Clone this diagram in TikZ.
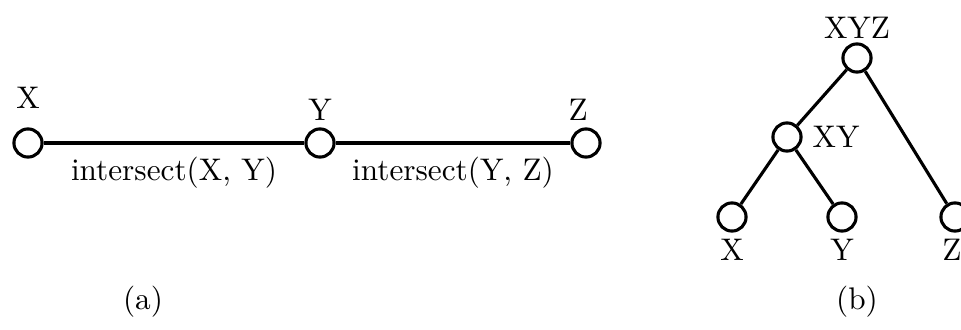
\documentclass[tikz,border=0pt]{standalone}
\usetikzlibrary{positioning}
\tikzset{
  vertex/.style={circle, draw=black, fill=white, line width=1pt, minimum size=9pt, inner sep=0pt},
  edge/.style={line width=1pt, draw=black},
  tag/.style={font=\normalsize, inner sep=1pt},
  caption/.style={font=\normalsize},
}
\begin{document}
\begin{tikzpicture}[x=0.32pt, y=-0.32pt]
  \useasboundingbox (0,0) rectangle (961,329);

  % (a) chain
  \node[vertex, label={[tag, label distance=5pt]above:X}] (ax) at (28,143) {};
  \node[vertex, label={[tag, label distance=1pt]above:Y}] (ay) at (320,143) {};
  \node[vertex, label={[tag, label distance=1pt, xshift=-2.5pt]above:Z}] (az) at (586,143) {};
  \draw[edge] (ax) -- node[tag, below=3pt] (lxy) {intersect(X, Y)} (ay);
  \draw[edge] (ay) -- node[tag, below=3pt] (lyz) {intersect(Y, Z)} (az);
  \node[caption] (capa) at (143,302) {(a)};

  % (b) tree
  \node[vertex, label={[tag, label distance=0pt]above:XYZ}] (xyz) at (857,58) {};
  \node[vertex, label={[tag, label distance=2pt]right:XY}] (xy) at (787,137) {};
  \node[vertex, label={[tag, label distance=1pt]below:X}] (bx) at (732,217) {};
  \node[vertex, label={[tag, label distance=1pt]below:Y}] (by) at (842,217) {};
  \node[vertex, label={[tag, label distance=1pt, xshift=-1pt]below:Z}] (bz) at (955,217) {};
  \foreach \from/\to in {xyz/xy, xyz/bz, xy/bx, xy/by}
    \draw[edge] (\from) -- (\to);
  \node[caption] (capb) at (857,302) {(b)};
\end{tikzpicture}
\end{document}
